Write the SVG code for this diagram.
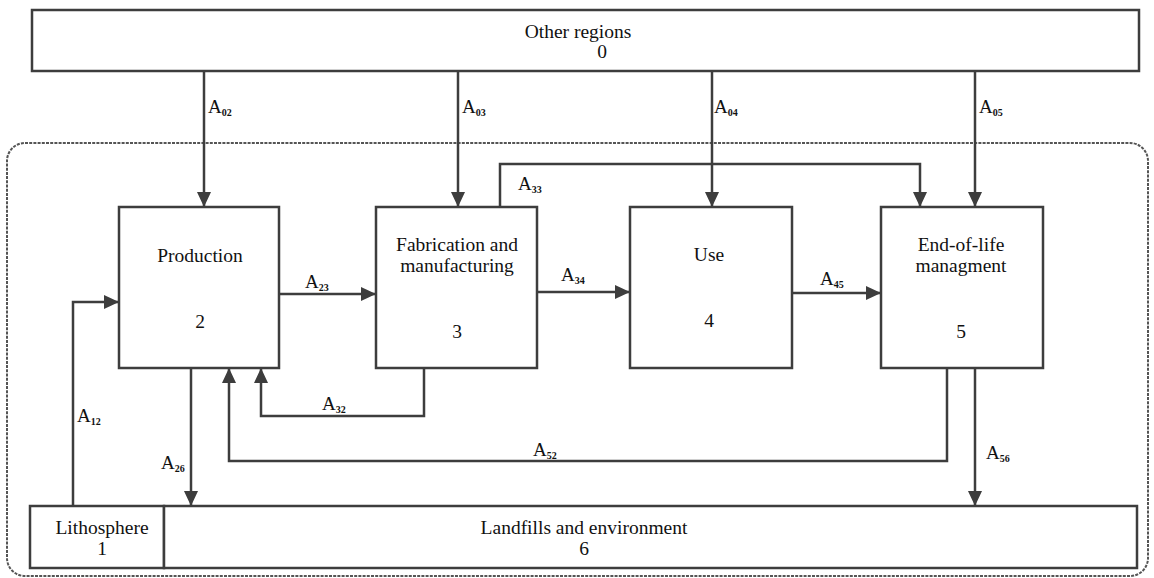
<svg xmlns="http://www.w3.org/2000/svg" width="1154" height="578" viewBox="0 0 1154 578">
<style>
.box{fill:#ffffff;stroke:#3d3d3d;stroke-width:2.5}
.t{font-family:"Liberation Serif","Times New Roman",serif;font-size:19.5px;fill:#111;text-anchor:middle}
.lbl{font-family:"Liberation Serif","Times New Roman",serif;font-size:19px;fill:#111}
.sub{font-size:10px;font-weight:bold}
.c{fill:none;stroke:#3d3d3d;stroke-width:2.5}
.bound{fill:none;stroke:#555;stroke-width:2;stroke-dasharray:3 1.2}
</style>
<defs>
<marker id="ah" markerUnits="userSpaceOnUse" markerWidth="16" markerHeight="14" refX="15" refY="7" orient="auto">
<path d="M0,0 L15,7 L0,14 Z" fill="#3d3d3d"/>
</marker>
</defs>
<rect class="bound" x="7" y="143" width="1141" height="433" rx="18" ry="18"/>
<g id="connectors">
<path class="c" d="M204,71 V207" marker-end="url(#ah)"/>
<path class="c" d="M458,71 V207" marker-end="url(#ah)"/>
<path class="c" d="M712,71 V207" marker-end="url(#ah)"/>
<path class="c" d="M975,71 V207" marker-end="url(#ah)"/>
<path class="c" d="M500,207 V164 H920 V207" marker-end="url(#ah)"/>
<path class="c" d="M279,294 H376" marker-end="url(#ah)"/>
<path class="c" d="M537,292 H630" marker-end="url(#ah)"/>
<path class="c" d="M792,293 H881" marker-end="url(#ah)"/>
<path class="c" d="M73,506 V302 H119" marker-end="url(#ah)"/>
<path class="c" d="M191,368 V506" marker-end="url(#ah)"/>
<path class="c" d="M424,368 V416 H261 V368" marker-end="url(#ah)"/>
<path class="c" d="M947,368 V461 H229 V368" marker-end="url(#ah)"/>
<path class="c" d="M975,368 V506" marker-end="url(#ah)"/>
<text class="lbl" x="208" y="113">A<tspan class="sub" dy="3">02</tspan></text>
<text class="lbl" x="462" y="113">A<tspan class="sub" dy="3">03</tspan></text>
<text class="lbl" x="714" y="113">A<tspan class="sub" dy="3">04</tspan></text>
<text class="lbl" x="979" y="113">A<tspan class="sub" dy="3">05</tspan></text>
<text class="lbl" x="518" y="190">A<tspan class="sub" dy="3">33</tspan></text>
<text class="lbl" x="305" y="288">A<tspan class="sub" dy="3">23</tspan></text>
<text class="lbl" x="561" y="281">A<tspan class="sub" dy="3">34</tspan></text>
<text class="lbl" x="820" y="285">A<tspan class="sub" dy="3">45</tspan></text>
<text class="lbl" x="77" y="422">A<tspan class="sub" dy="3">12</tspan></text>
<text class="lbl" x="161" y="469">A<tspan class="sub" dy="3">26</tspan></text>
<text class="lbl" x="322" y="410">A<tspan class="sub" dy="3">32</tspan></text>
<text class="lbl" x="533" y="456">A<tspan class="sub" dy="3">52</tspan></text>
<text class="lbl" x="986" y="459">A<tspan class="sub" dy="3">56</tspan></text>
</g>
<g id="n0">
<rect class="box" x="32" y="10" width="1107" height="61"/>
<text class="t" x="578" y="38">Other regions</text>
<text class="t" x="602" y="58">0</text>
</g>
<g id="n2">
<rect class="box" x="119" y="207" width="160" height="161"/>
<text class="t" x="200" y="262">Production</text>
<text class="t" x="200" y="328">2</text>
</g>
<g id="n3">
<rect class="box" x="376" y="207" width="161" height="161"/>
<text class="t" x="457" y="251">Fabrication and</text>
<text class="t" x="457" y="272">manufacturing</text>
<text class="t" x="457" y="338">3</text>
</g>
<g id="n4">
<rect class="box" x="630" y="207" width="162" height="161"/>
<text class="t" x="709" y="261">Use</text>
<text class="t" x="709" y="327">4</text>
</g>
<g id="n5">
<rect class="box" x="881" y="207" width="162" height="161"/>
<text class="t" x="961" y="251">End-of-life</text>
<text class="t" x="961" y="272">managment</text>
<text class="t" x="961" y="338">5</text>
</g>
<g id="n1">
<rect class="box" x="30" y="506" width="134" height="62"/>
<text class="t" x="102" y="534">Lithosphere</text>
<text class="t" x="102" y="555">1</text>
</g>
<g id="n6">
<rect class="box" x="164" y="506" width="973" height="62"/>
<text class="t" x="584" y="534">Landfills and environment</text>
<text class="t" x="584" y="555">6</text>
</g>
</svg>
